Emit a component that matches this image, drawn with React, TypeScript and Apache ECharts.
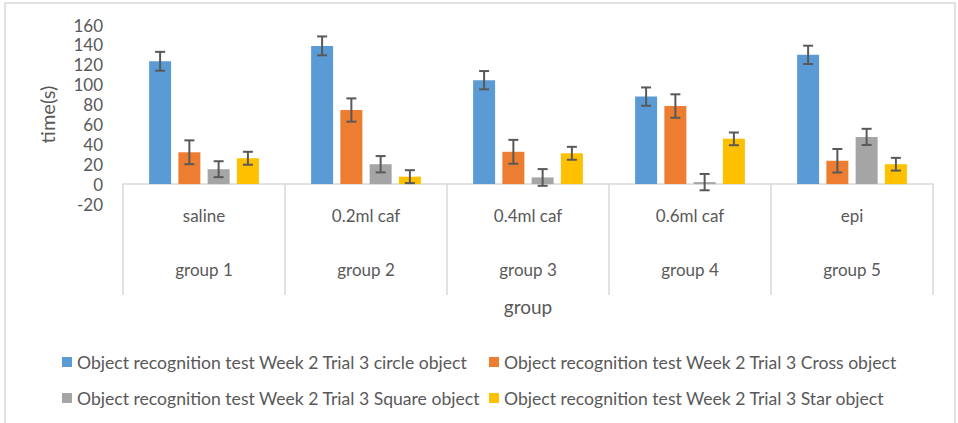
import React, { useEffect, useRef } from "react";
import * as echarts from "echarts";

const categories = ["saline", "0.2ml caf", "0.4ml caf", "0.6ml caf", "epi"];
const groupLabels = ["group 1", "group 2", "group 3", "group 4", "group 5"];
const seriesNames = [
  "Object recognition test Week 2 Trial 3 circle object",
  "Object recognition test Week 2 Trial 3 Cross object",
  "Object recognition test Week 2 Trial 3 Square object",
  "Object recognition test Week 2 Trial 3 Star object",
];
const circleValues = [123.5, 139, 104.5, 88, 130];
const crossValues = [32, 74.5, 32.5, 78.5, 23.5];
const squareValues = [15, 20, 6.7, 2, 47.5];
const starValues = [26, 7.5, 31, 45.5, 20];
const circleErrors = [9.5, 9.5, 9.2, 9.2, 9.2];
const crossErrors = [12, 11.7, 12, 11.8, 11.8];
const squareErrors = [8, 8.2, 8.4, 8.2, 8.1];
const starErrors = [6.5, 6.5, 6.5, 6.4, 6.4];
const yTicks = { min: -20, max: 160, interval: 20 };

const colors = ["#5B9BD5", "#ED7D31", "#A5A5A5", "#FFC000"];
const TEXT = "#595959";
const FONT = "Lato";
const BAR_W = 22;
const BAR_GAP = 0.33;

export default function App() {
  const ref = useRef<HTMLDivElement>(null);
  useEffect(() => {
    if (!ref.current) return;
    const chart = echarts.init(ref.current, null, { renderer: "svg" });
    const values = [circleValues, crossValues, squareValues, starValues];
    const errors = [circleErrors, crossErrors, squareErrors, starErrors];
    const pitch = BAR_W * (1 + BAR_GAP);

    const barSeries = values.map((vals, i) => ({
      type: "bar",
      name: seriesNames[i],
      data: vals,
      barWidth: BAR_W,
      barGap: `${BAR_GAP * 100}%`,
      itemStyle: { color: colors[i] },
      z: 2,
    }));

    const errSeries = values.map((vals, i) => ({
      type: "custom",
      name: `err${i}`,
      z: 5,
      data: vals.map((v, j) => [j, v, errors[i][j]]),
      encode: { x: 0, y: 1 },
      renderItem: (params: any, api: any) => {
        const cat = api.value(0);
        const v = api.value(1);
        const e = api.value(2);
        const top = api.coord([cat, v + e]);
        const bot = api.coord([cat, v - e]);
        const x = top[0] + (i - 1.5) * pitch;
        const style = { stroke: "#595959", lineWidth: 2 };
        return {
          type: "group",
          children: [
            { type: "line", shape: { x1: x, y1: top[1], x2: x, y2: bot[1] }, style },
            { type: "line", shape: { x1: x - 5, y1: top[1], x2: x + 5, y2: top[1] }, style },
            { type: "line", shape: { x1: x - 5, y1: bot[1], x2: x + 5, y2: bot[1] }, style },
          ],
        };
      },
    }));

    const legendCommon = {
      orient: "vertical",
      icon: "rect",
      itemWidth: 10,
      itemHeight: 10,
      itemGap: 16,
      padding: 0,
      top: 352,
      textStyle: { color: TEXT, fontFamily: FONT, fontSize: 17.6, lineHeight: 20 },
      selectedMode: false,
    };

    chart.setOption({
      animation: false,
      textStyle: { fontFamily: FONT },
      graphic: [
        {
          type: "rect",
          shape: { x: 5, y: 3, width: 950, height: 440 },
          style: { fill: "none", stroke: "#d9d9d9", lineWidth: 1.5 },
          silent: true,
        },
      ],
      legend: [
        { ...legendCommon, left: 62, data: [seriesNames[0], seriesNames[2]] },
        { ...legendCommon, left: 489, data: [seriesNames[1], seriesNames[3]] },
      ],
      grid: { left: 123, right: 25, top: 25, bottom: 219, containLabel: false },
      xAxis: {
        type: "category",
        data: categories,
        name: "group",
        nameLocation: "middle",
        nameGap: 88,
        nameTextStyle: { color: TEXT, fontSize: 19, fontFamily: FONT },
        axisLine: { onZero: true, lineStyle: { color: "#d9d9d9", width: 1.5 } },
        axisTick: { show: true, length: 111, interval: 0, lineStyle: { color: "#d9d9d9", width: 1.5 } },
        axisLabel: {
          interval: 0,
          margin: -16,
          color: TEXT,
          fontSize: 17,
          lineHeight: 54,
          fontFamily: FONT,
          formatter: (v: string, idx: number) => `${v}\n${groupLabels[idx]}`,
        },
        splitLine: { show: false },
      },
      yAxis: {
        type: "value",
        min: yTicks.min,
        max: yTicks.max,
        interval: yTicks.interval,
        name: "time(s)",
        nameLocation: "middle",
        nameGap: 66,
        nameRotate: 90,
        nameTextStyle: { color: TEXT, fontSize: 20, fontFamily: FONT },
        axisLine: { show: false },
        axisTick: { show: false },
        splitLine: { show: false },
        axisLabel: { color: TEXT, fontSize: 17, margin: 20, fontFamily: FONT },
      },
      series: [...barSeries, ...errSeries],
    });
    return () => chart.dispose();
  }, []);
  return (
    <div
      ref={ref}
      style={{ position: "fixed", left: 0, top: 0, width: 958, height: 423, background: "#fff" }}
    />
  );
}
